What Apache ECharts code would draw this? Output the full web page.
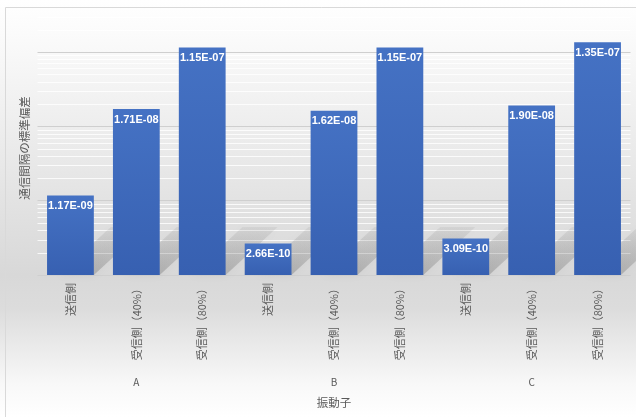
<!DOCTYPE html>
<html><head><meta charset="utf-8">
<script src="https://cdn.jsdelivr.net/npm/echarts@6/dist/echarts.min.js"></script>
<style>html,body{margin:0;padding:0;background:#fff}#c{width:636px;height:417px}</style>
</head><body><div id="c"></div>
<script>
const categories = ['送信側','受信側（40%）','受信側（80%）','送信側','受信側（40%）','受信側（80%）','送信側','受信側（40%）','受信側（80%）'];
const values = [1.17e-9, 1.71e-8, 1.15e-7, 2.66e-10, 1.62e-8, 1.15e-7, 3.09e-10, 1.90e-8, 1.35e-7];
const valueLabels = ['1.17E-09','1.71E-08','1.15E-07','2.66E-10','1.62E-08','1.15E-07','3.09E-10','1.90E-08','1.35E-07'];
const groups = ['A','B','C'];
const yTitle = '通信間隔の標準偏差';
const xTitle = '振動子';
const yMin = 1e-10, yMax = 3.67e-7;

const minorValues = [];
for (let e = -10; e <= -7; e++) {
  for (let k = 2; k <= 9; k++) {
    const v = k * Math.pow(10, e);
    if (v < yMax) minorValues.push([0, v]);
  }
}
const seriesData = values.map((v, i) => [i, v]);
const font = '"Noto Sans CJK JP", "Liberation Sans", sans-serif';
const barRatio = 0.71;

function barGeom(api) {
  const i = api.value(0), v = api.value(1);
  const top = api.coord([i, v]);
  const bot = api.coord([i, yMin]);
  const w = api.size([1, 0])[0] * barRatio;
  return {x: top[0] - w / 2, y: top[1], w: w, h: bot[1] - top[1], yb: bot[1]};
}

const chart = echarts.init(document.getElementById('c'), null, {renderer: 'canvas'});
chart.setOption({
  animation: false,
  graphic: [
    {type: 'rect', z: -10, silent: true, shape: {x: 0, y: 0, width: 636, height: 417},
     style: {fill: new echarts.graphic.LinearGradient(0, 0, 0, 1, [
       {offset: 0, color: '#ffffff'},
       {offset: 0.08, color: '#fbfbfb'},
       {offset: 0.66, color: '#d8d8d8'},
       {offset: 0.74, color: '#dcdcdc'},
       {offset: 0.92, color: '#f8f8f8'},
       {offset: 1, color: '#ffffff'}])}},
    {type: 'rect', z: -9, silent: true, shape: {x: 5.5, y: 7.5, width: 640, height: 420},
     style: {fill: 'none', stroke: '#d9d9d9', lineWidth: 1}},
    {type: 'text', silent: true, x: 25, y: 148, rotation: Math.PI / 2,
     style: {text: yTitle, fill: '#595959', fontSize: 11.5, fontFamily: font,
             align: 'center', verticalAlign: 'middle'}}
  ],
  grid: {left: 37.5, right: 5.5, top: 10, bottom: 142, containLabel: false},
  xAxis: [
    {type: 'category', data: categories, position: 'bottom',
     axisLine: {show: false}, axisTick: {show: false},
     axisLabel: {rotate: 90, margin: 8, color: '#595959', fontSize: 11, fontFamily: font, interval: 0}},
    {type: 'category', data: groups, position: 'bottom', offset: 100,
     axisLine: {show: false}, axisTick: {show: false},
     axisLabel: {margin: 2, color: '#595959', fontSize: 10, fontFamily: font},
     name: xTitle, nameLocation: 'middle', nameGap: 22,
     nameTextStyle: {color: '#595959', fontSize: 11.5, fontFamily: font}}
  ],
  yAxis: {
    type: 'log', logBase: 10, min: yMin, max: yMax,
    axisLine: {show: false}, axisTick: {show: false}, axisLabel: {show: false},
    splitLine: {show: true, showMaxLine: false, lineStyle: {color: '#cfcfcf', width: 1}}
  },
  series: [
    {
      type: 'custom', z: 1, silent: true, xAxisIndex: 0, data: minorValues,
      encode: {x: 0, y: 1}, clip: false,
      renderItem: function (params, api) {
        const y = Math.round(api.coord([0, api.value(1)])[1]) + 0.5;
        const cs = params.coordSys;
        return {
          type: 'line',
          shape: {x1: cs.x, y1: y, x2: cs.x + cs.width, y2: y},
          style: {stroke: 'rgba(255,255,255,0.8)', lineWidth: 1}
        };
      }
    },
    {
      type: 'custom', z: 2, silent: true, xAxisIndex: 0, data: seriesData,
      encode: {x: 0, y: 1},
      renderItem: function (params, api) {
        const g = barGeom(api);
        const dy = 48, dx = 52;
        const xl = g.x + g.w * 0.25, xr = g.x + g.w;
        return {
          type: 'polygon',
          shape: {points: [[xl, g.yb], [xr, g.yb], [xr + dx, g.yb - dy], [xl + dx, g.yb - dy]]},
          style: {
            fill: new echarts.graphic.LinearGradient(0, 1, 0, 0, [
              {offset: 0, color: 'rgba(70,70,70,0.26)'},
              {offset: 1, color: 'rgba(70,70,70,0.07)'}]),
            shadowBlur: 8, shadowColor: 'rgba(70,70,70,0.25)'}
        };
      }
    },
    {
      type: 'custom', z: 3, xAxisIndex: 0, data: seriesData,
      encode: {x: 0, y: 1},
      renderItem: function (params, api) {
        const g = barGeom(api);
        return {
          type: 'rect',
          shape: {x: g.x, y: g.y, width: g.w, height: g.h},
          style: {fill: new echarts.graphic.LinearGradient(0, 0, 0, 1, [
            {offset: 0, color: '#4572c4'}, {offset: 1, color: '#3760b1'}])},
          textContent: {style: {text: valueLabels[params.dataIndex], fill: '#ffffff',
            fontWeight: 'bold', fontSize: 11, fontFamily: '"Liberation Sans", sans-serif'}},
          textConfig: {position: 'insideTop', distance: 5}
        };
      }
    }
  ]
});
</script></body></html>
